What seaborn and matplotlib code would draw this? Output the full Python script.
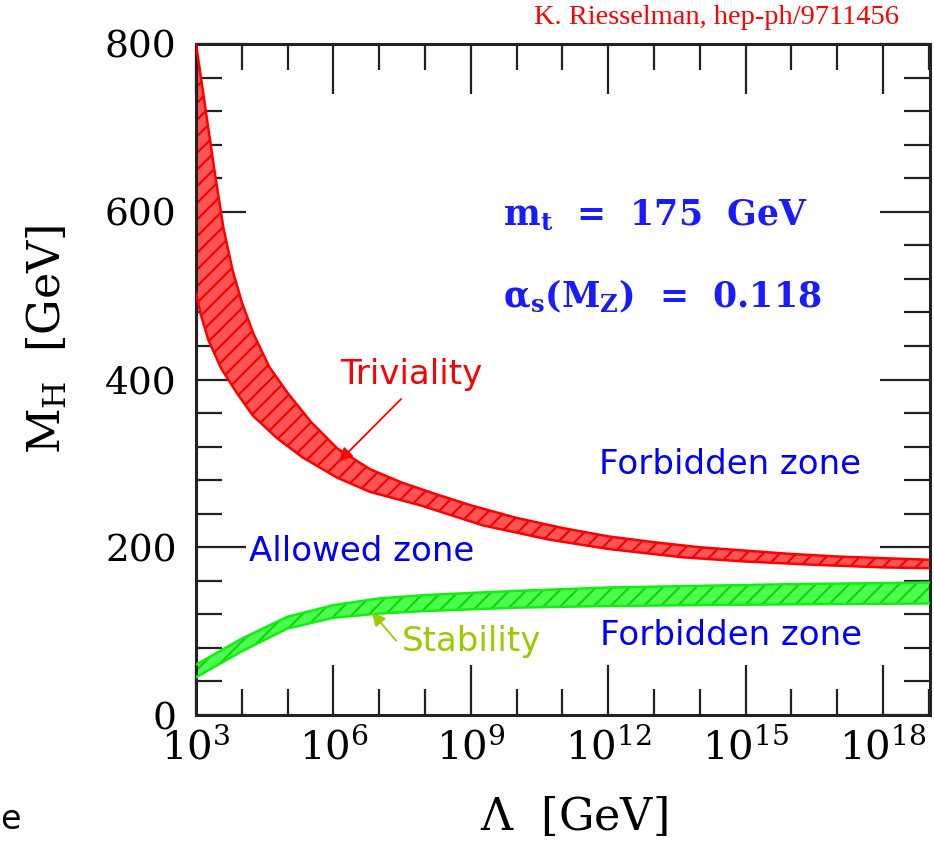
import numpy as np
import pandas as pd
import seaborn as sns
import matplotlib
matplotlib.use("Agg")
import matplotlib.pyplot as plt
from matplotlib.ticker import FixedLocator, MultipleLocator, NullFormatter

# log10(Lambda / GeV) and Higgs mass bounds in GeV
triv_up_log = [3.0, 3.2, 3.4, 3.6, 3.8, 4.0, 4.25, 4.6, 5.0, 5.5, 6.08, 6.8, 7.5, 8.2,
               9.0, 10.0, 11.0, 12.0, 13.0, 14.0, 15.0, 16.0, 17.0, 18.0, 19.05]
triv_upper = [800, 725, 650, 580, 530, 492, 455, 415, 384, 350, 318, 293, 277, 264,
              250, 235, 223, 213, 206, 200, 196, 192, 189, 187, 185]
triv_lo_log = [3.0, 3.1, 3.27, 3.55, 3.89, 4.24, 4.77, 5.33, 6.08, 6.8, 7.9, 9.27,
               10.72, 12.0, 13.63, 15.0, 16.55, 18.0, 19.05]
triv_lower = [503, 478, 447, 413, 384, 357, 330, 307, 283, 266, 250, 226,
              209, 198, 188, 183, 179, 176, 175]

stab_log = [3.0, 4.0, 4.99, 6.0, 7.0, 8.0, 10.0, 12.0, 14.0, 16.0, 19.05]
stab_upper = [60, 91, 117, 131, 139, 143, 148, 152, 154, 156, 158]
stab_lower = [45, 76, 103, 116, 121, 124, 128, 130, 131, 132, 133]

major_exp = [3, 6, 9, 12, 15, 18]
y_major = [0, 200, 400, 600, 800]

triv_up = pd.DataFrame({"lam": np.power(10.0, triv_up_log), "mh": triv_upper})
triv_lo = pd.DataFrame({"lam": np.power(10.0, triv_lo_log), "mh": triv_lower})
stab_up = pd.DataFrame({"lam": np.power(10.0, stab_log), "mh": stab_upper})
stab_lo = pd.DataFrame({"lam": np.power(10.0, stab_log), "mh": stab_lower})

sns.set_style("ticks")
plt.rcParams["mathtext.fontset"] = "dejavuserif"
plt.rcParams["hatch.linewidth"] = 1.5
plt.rcParams["xtick.labelcolor"] = "black"
plt.rcParams["ytick.labelcolor"] = "black"

fig = plt.figure(figsize=(9.34, 8.41), dpi=100)
ax = fig.add_axes([0.2099, 0.1498, 0.7859, 0.7979])


def band(up, lo, face, hatch_col, line_col):
    # closed outline: upper edge left to right, lower edge back
    xs = np.concatenate([up["lam"], lo["lam"][::-1]])
    ys = np.concatenate([up["mh"], lo["mh"][::-1]])
    ax.fill(xs, ys, facecolor=face, edgecolor=hatch_col, hatch="//", linewidth=0, zorder=2)
    sns.lineplot(data=up, x="lam", y="mh", color=line_col, lw=1.8, ax=ax, zorder=3)
    sns.lineplot(data=lo, x="lam", y="mh", color=line_col, lw=1.8, ax=ax, zorder=3)


band(triv_up, triv_lo, (1, 0.33, 0.33), "#f00000", "#ff0000")
band(stab_up, stab_lo, (0.3, 1, 0.3), "#10d010", "#11ee11")

ax.set_xscale("log")
ax.set_xlim(1e3, 10**19.03)
ax.set_ylim(0, 800)

ax.xaxis.set_major_locator(FixedLocator([10.0**e for e in major_exp]))
ax.xaxis.set_minor_locator(FixedLocator([10.0**e for e in range(3, 20) if e not in major_exp]))
ax.xaxis.set_minor_formatter(NullFormatter())
ax.set_xticklabels([rf"$10^{{{e}}}$" for e in major_exp], fontsize=29)
ax.yaxis.set_major_locator(FixedLocator(y_major))
ax.yaxis.set_minor_locator(MultipleLocator(40))
ax.set_yticklabels([str(v) for v in y_major], fontsize=27, family="DejaVu Serif")

ax.tick_params(which="both", direction="in", top=True, right=True, width=1.6, color="#222222")
ax.tick_params(which="major", length=36)
ax.tick_params(which="minor", length=19)
ax.tick_params(axis="x", which="major", pad=9)
ax.tick_params(axis="y", which="major", pad=14)
for s in ax.spines.values():
    s.set_linewidth(2.2)
    s.set_color("#222222")

ax.set_xlabel(r"$\Lambda$  [GeV]", fontsize=32, family="DejaVu Serif", va="center", color="black")
ax.set_ylabel(r"$\mathrm{M_H}$  [GeV]", fontsize=32, family="DejaVu Serif", va="center", color="black")
ax.xaxis.set_label_coords(0.514, -0.152)
ax.yaxis.set_label_coords(-0.203, 0.560)

# annotations
ax.text(0.418, 0.744, r"$\mathbf{m_t}$  =  175  GeV", transform=ax.transAxes, color="#1a1aff",
        fontsize=25, family="DejaVu Serif", weight="bold", va="center")
ax.text(0.418, 0.623, r"$\mathbf{\alpha_s(M_Z)}$  =  0.118", transform=ax.transAxes, color="#1a1aff",
        fontsize=25, family="DejaVu Serif", weight="bold", va="center")
ax.text(0.293, 0.507, "Triviality", transform=ax.transAxes, color="red", fontsize=24.5,
        ha="center", va="center")
ax.text(0.727, 0.373, "Forbidden zone", transform=ax.transAxes, color="blue", fontsize=24.5,
        ha="center", va="center")
ax.text(0.226, 0.243, "Allowed zone", transform=ax.transAxes, color="blue", fontsize=24.5,
        ha="center", va="center")
ax.text(0.729, 0.118, "Forbidden zone", transform=ax.transAxes, color="blue", fontsize=24.5,
        ha="center", va="center")
ax.text(0.375, 0.109, "Stability", transform=ax.transAxes, color="#99cc00", fontsize=24.5,
        ha="center", va="center")
ax.annotate("", xy=(10**6.08, 300), xytext=(10**7.52, 379),
            arrowprops=dict(arrowstyle="-|>", color="red", lw=1.3, mutation_scale=20), zorder=5)
ax.annotate("", xy=(10**6.80, 125), xytext=(10**7.41, 86),
            arrowprops=dict(arrowstyle="-|>", color="#99cc00", lw=1.3, mutation_scale=20), zorder=5)

fig.text(0.767, 0.979, "K. Riesselman, hep-ph/9711456", color="red", fontsize=20.5,
         family="Liberation Serif", ha="center", va="center")
fig.text(0.0, 0.025, "e", fontsize=24, color="black", va="center")

fig.savefig("out.png", dpi=100)
